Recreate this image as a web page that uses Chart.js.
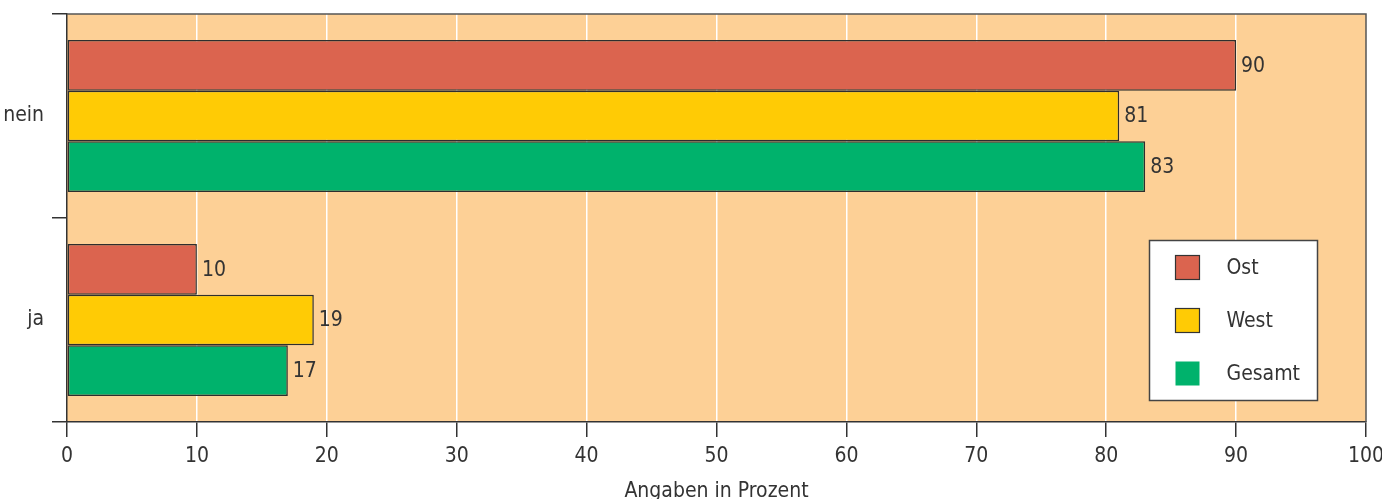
<!DOCTYPE html>
<html>
<head>
    <title>Angaben in Prozent</title>
    <script src="https://cdn.jsdelivr.net/npm/chart.js"></script>
    <style>
        html, body { margin: 0; padding: 0; background: #fff; }
        #wrap { width: 1382px; height: 499px; }
    </style>
</head>
<body>
<div id="wrap"><canvas id="chart" width="1382" height="499"></canvas></div>
<script>
// data
const categories = ['nein', 'ja'];
const seriesNames = ['Ost', 'West', 'Gesamt'];
const ost = [90, 10];
const west = [81, 19];
const gesamt = [83, 17];
const xTicks = [0, 10, 20, 30, 40, 50, 60, 70, 80, 90, 100];

const colors = ['#DB644F', '#FFCB05', '#00B26C'];
const FONT = '"DejaVu Sans Condensed", "Liberation Sans Narrow", "Liberation Sans", sans-serif';
const INK = '#333333';

// peach plot background + frame
const plotFrame = {
    id: 'plotFrame',
    beforeDraw(chart) {
        const a = chart.chartArea, c = chart.ctx;
        c.save();
        c.fillStyle = '#FDD096';
        c.fillRect(a.left, a.top, a.right - a.left, a.bottom - a.top);
        c.restore();
    },
    beforeDatasetsDraw(chart) {
        const a = chart.chartArea, c = chart.ctx;
        c.save();
        c.strokeStyle = '#555';
        c.lineWidth = 1.5;
        c.beginPath();
        c.moveTo(a.left, a.top);
        c.lineTo(a.right, a.top);
        c.lineTo(a.right, a.bottom);
        c.stroke();
        c.restore();
    }
};

// numbers at the bar ends
const valueLabels = {
    id: 'valueLabels',
    afterDatasetsDraw(chart) {
        const c = chart.ctx;
        c.save();
        c.font = '21px ' + FONT;
        c.fillStyle = INK;
        c.textBaseline = 'middle';
        c.textAlign = 'left';
        chart.data.datasets.forEach((ds, i) => {
            chart.getDatasetMeta(i).data.forEach((bar, j) => {
                c.fillText(String(ds.data[j]), bar.x + 5, bar.y + 1);
            });
        });
        c.restore();
    }
};

// legend box inside the plot, lower right
const boxLegend = {
    id: 'boxLegend',
    afterDraw(chart) {
        const c = chart.ctx;
        const bx = 1149.5, by = 240.5, bw = 168, bh = 160;
        c.save();
        c.fillStyle = '#fff';
        c.fillRect(bx, by, bw, bh);
        c.strokeStyle = '#444';
        c.lineWidth = 1.5;
        c.strokeRect(bx, by, bw, bh);
        c.font = '21px ' + FONT;
        c.textBaseline = 'middle';
        seriesNames.forEach((name, i) => {
            const y = by + 27 + i * 53;
            c.fillStyle = colors[i];
            c.fillRect(bx + 26, y - 12, 24, 24);
            if (i < 2) {
                c.strokeStyle = '#333';
                c.lineWidth = 1.2;
                c.strokeRect(bx + 26, y - 12, 24, 24);
            }
            c.fillStyle = INK;
            c.fillText(name, bx + 77, y + 1);
        });
        c.restore();
    }
};

new Chart(document.getElementById('chart'), {
    type: 'bar',
    data: {
        labels: categories,
        datasets: [ost, west, gesamt].map((vals, i) => ({
            label: seriesNames[i],
            data: vals,
            backgroundColor: colors[i],
            borderColor: '#2e2e2e',
            borderWidth: 1.5,
            borderSkipped: false,
            categoryPercentage: 0.745,
            barPercentage: 1.0
        }))
    },
    options: {
        indexAxis: 'y',
        responsive: false,
        animation: false,
        layout: { padding: { top: 14, right: 16, left: 0, bottom: 0 } },
        plugins: { legend: { display: false }, tooltip: { enabled: false } },
        scales: {
            x: {
                min: 0,
                max: 100,
                afterBuildTicks: s => { s.ticks = xTicks.map(v => ({ value: v })); },
                afterFit: s => { s.height = 77; s.paddingLeft = 0; s.paddingRight = 0; },
                grid: {
                    color: ctx => (ctx.tick && (ctx.tick.value === 0 || ctx.tick.value === 100)) ? 'rgba(0,0,0,0)' : '#ffffff',
                    lineWidth: 1.5,
                    tickColor: INK,
                    tickLength: 15,
                    drawTicks: true
                },
                border: { color: INK, width: 1.5 },
                ticks: { color: INK, font: { size: 21, family: FONT }, padding: 7 },
                title: {
                    display: true,
                    text: 'Angaben in Prozent',
                    color: INK,
                    font: { size: 21, family: FONT },
                    padding: { top: 13, bottom: -5 }
                }
            },
            y: {
                afterFit: s => { s.width = 67; s.paddingTop = 0; s.paddingBottom = 0; },
                grid: {
                    offset: true,
                    drawOnChartArea: false,
                    drawTicks: true,
                    tickLength: 15,
                    color: INK,
                    tickColor: INK,
                    lineWidth: 1.5
                },
                border: { color: INK, width: 1.5 },
                ticks: { color: INK, font: { size: 21, family: FONT }, padding: 8 }
            }
        }
    },
    plugins: [plotFrame, valueLabels, boxLegend]
});
</script>
</body>
</html>
